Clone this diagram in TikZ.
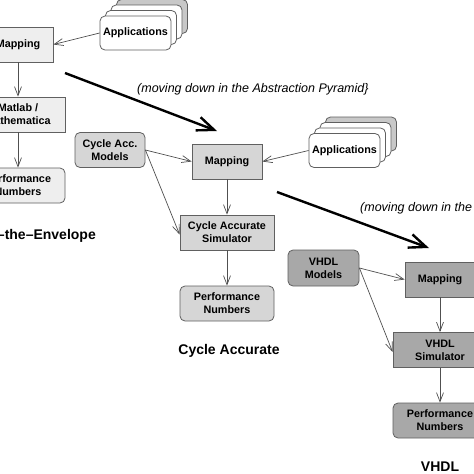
\documentclass[tikz,border=0pt]{standalone}
\usepackage{fontspec}
\setmainfont{Liberation Sans}
\usetikzlibrary{arrows.meta}
\definecolor{cl}{HTML}{EEEEEE}
\definecolor{cm}{HTML}{D6D6D6}
\definecolor{cd}{HTML}{A8A8A8}
\definecolor{cback}{HTML}{C8C8C8}
\definecolor{boxc}{HTML}{606060}
\definecolor{linec}{HTML}{505050}
\begin{document}
\begin{tikzpicture}[x=1pt,y=-1pt,
  box/.style={draw=boxc, line width=0.8pt, minimum width=70pt, minimum height=35pt, inner sep=0pt, align=center, font=\fontsize{10.8}{13}\selectfont\bfseries},
  wide/.style={box, minimum width=94pt},
  rnd/.style={rounded corners=5pt},
  apps/.style={box, rnd, fill=white, minimum width=71pt, minimum height=34pt},
  arr/.style={draw=linec, line width=0.7pt, -{Straight Barb[length=9pt,width=7pt,line width=0.7pt]}},
  big/.style={line width=2.4pt, -{Straight Barb[length=17pt,width=14pt,line width=2.4pt]}},
  lab/.style={font=\fontsize{14}{16}\selectfont\bfseries, inner sep=0pt},
  ital/.style={font=\fontsize{12.5}{15}\selectfont\itshape, anchor=west, inner sep=0pt}]
\useasboundingbox (0,0) rectangle (474,474);
\clip (0,0) rectangle (474,474);
\fill[white] (0,0) rectangle (474,474);

% ---- left group (Back-of-the-Envelope)
\node[apps, fill=cback] (appsT3) at (152,16.5) {};
\node[apps] (appsT2) at (146.5,22) {};
\node[apps] (appsT1) at (141,27.5) {};
\node[apps] (appsT) at (135.5,33) {Applications};
\node[box, fill=cl] (mapL) at (18,44.5) {Mapping};
\node[wide, fill=cl] (matL) at (18,114.5) {Matlab /\\Mathematica};
\node[wide, rnd, fill=cl] (perfL) at (18,185.5) {Performance\\Numbers};
\node[lab, anchor=east] (labL) at (96,236) {Back\textendash of\textendash the\textendash Envelope};
\draw[arr] (appsT.west) -- (mapL.east);
\draw[arr] (mapL.south) -- (matL.north);
\draw[arr] (matL.south) -- (perfL.north);

% ---- transition 1
\coordinate (b1s) at (65,73);
\coordinate (b1e) at (217,131);
\draw[big] (b1s) -- (b1e);
\node[ital] (t1) at (137,89) {(moving down in the Abstraction Pyramid\}};

% ---- middle group (Cycle Accurate)
\node[apps, fill=cback] (appsM3) at (361,134) {};
\node[apps] (appsM2) at (355.5,139.5) {};
\node[apps] (appsM1) at (350,145) {};
\node[apps] (appsM) at (344.5,150.5) {Applications};
\node[box, rnd, fill=cm] (modM) at (110,150) {Cycle Acc.\\Models};
\node[box, fill=cm] (mapM) at (227,161.5) {Mapping};
\node[wide, fill=cm] (simM) at (227,232.5) {Cycle Accurate\\Simulator};
\node[wide, rnd, fill=cm] (perfM) at (227,303.5) {Performance\\Numbers};
\node[lab] (labM) at (229,351) {Cycle Accurate};
\draw[arr] (appsM.west) -- (mapM.east);
\draw[arr] (modM.east) -- (mapM.west);
\draw[arr] (modM.east) -- ([yshift=-2pt]simM.west);
\draw[arr] (mapM.south) -- (simM.north);
\draw[arr] (simM.south) -- (perfM.north);

% ---- transition 2
\coordinate (b2s) at (277,192);
\coordinate (b2e) at (429,248);
\draw[big] (b2s) -- (b2e);
\node[ital] (t2) at (360,208) {(moving down in the Abstraction Pyramid\}};

% ---- right group (VHDL)
\node[box, rnd, fill=cd, minimum width=71pt, minimum height=36pt] (modR) at (323.5,268) {VHDL\\Models};
\node[box, fill=cd] (mapR) at (440,279.5) {Mapping};
\node[wide, fill=cd] (simR) at (440,350) {VHDL\\Simulator};
\node[wide, rnd, fill=cd] (perfR) at (440,420.5) {Performance\\Numbers};
\node[lab] (labR) at (440,467) {VHDL};
\draw[arr] (modR.east) -- (mapR.west);
\draw[arr] (modR.east) -- ([yshift=-2pt]simR.west);
\draw[arr] (mapR.south) -- (simR.north);
\draw[arr] (simR.south) -- (perfR.north);
\end{tikzpicture}
\end{document}
